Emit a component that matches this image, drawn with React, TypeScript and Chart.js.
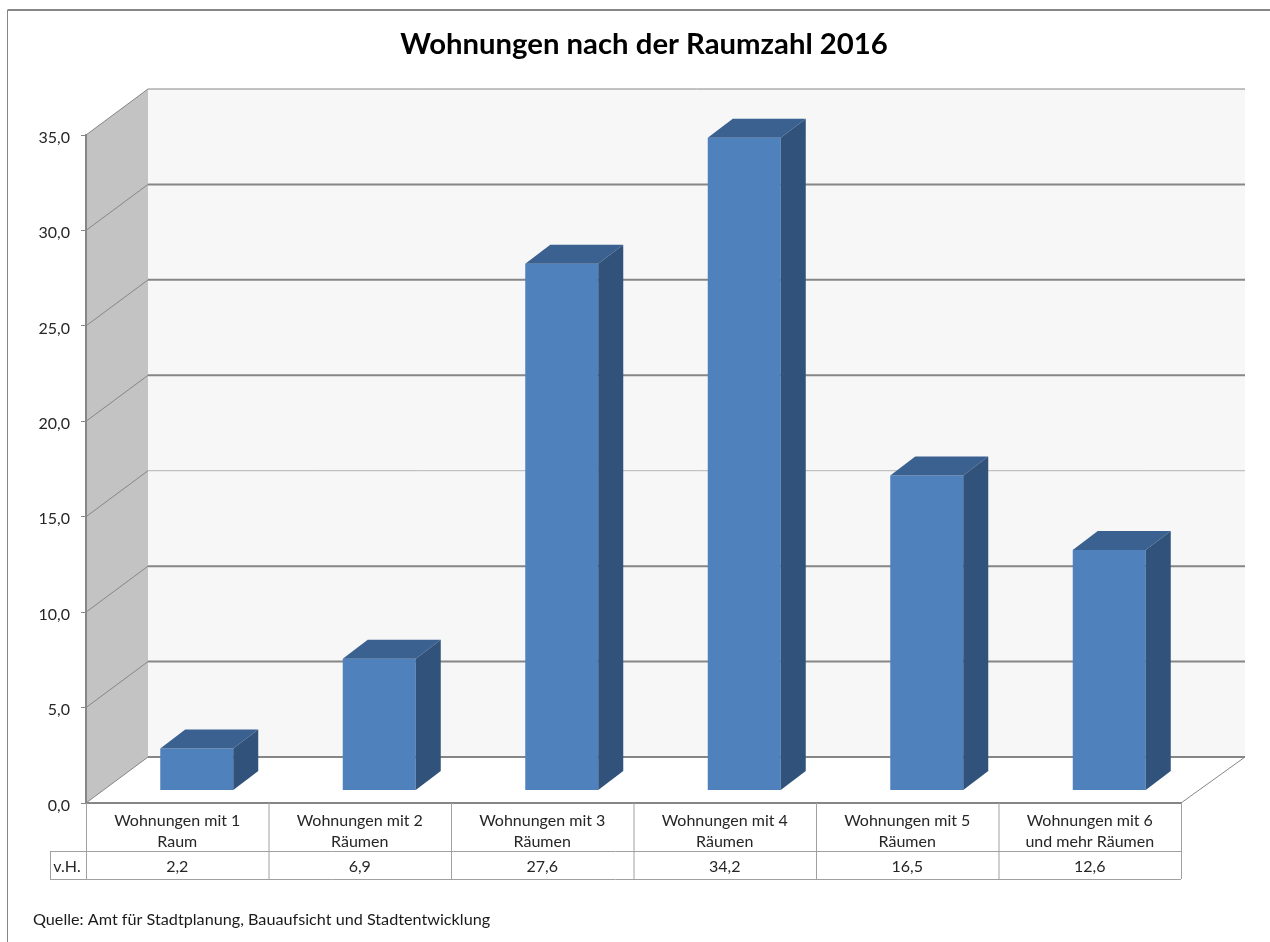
import React, { useEffect, useRef } from "react";
import { Chart, registerables } from "chart.js";

Chart.register(...registerables);

const TITLE = "Wohnungen nach der Raumzahl 2016";
const SOURCE = "Quelle: Amt für Stadtplanung, Bauaufsicht und Stadtentwicklung";
const ROW_LABEL = "v.H.";
const categories = [
  ["Wohnungen mit 1", "Raum"],
  ["Wohnungen mit 2", "Räumen"],
  ["Wohnungen mit 3", "Räumen"],
  ["Wohnungen mit 4", "Räumen"],
  ["Wohnungen mit 5", "Räumen"],
  ["Wohnungen mit 6", "und mehr Räumen"],
];
const values = [2.2, 6.9, 27.6, 34.2, 16.5, 12.6];

const FONT = "Lato, 'Noto Sans', sans-serif";
const TEXT = "#262626";
const LINE = "#868686";
const TABLE_LINE = "#a0a0a0";
const de = (v: number) => v.toFixed(1).replace(".", ",");

const WALL = { dx: 62, dy: -46, rightExtra: 2 };
const BAR_OFFSET = { dx: 19.5, dy: -12.5 };
const BAR_DEPTH = { dx: 25, dy: -19 };
const TABLE = { rowBottom: 851, valuesBottom: 879, headLeft: 50 };

const scenePlugin = {
  id: "scene",
  beforeDraw(chart: any) {
    const { ctx, chartArea: a, scales } = chart;
    const y = scales.y;
    const top = a.top;
    const bot = a.bottom;
    const backL = a.left + WALL.dx;
    const backR = a.right + WALL.dx + WALL.rightExtra;
    ctx.save();
    ctx.fillStyle = "#ffffff";
    ctx.fillRect(0, 0, chart.width, chart.height);
    // outer frame
    ctx.strokeStyle = LINE;
    ctx.lineWidth = 2;
    ctx.beginPath();
    ctx.moveTo(chart.width, 10);
    ctx.lineTo(7.5, 10);
    ctx.stroke();
    ctx.lineWidth = 1;
    ctx.beginPath();
    ctx.moveTo(7.5, 10);
    ctx.lineTo(7.5, chart.height);
    ctx.stroke();
    // back wall
    ctx.fillStyle = "#f7f7f7";
    ctx.fillRect(backL, top + WALL.dy, backR - backL, bot - top);
    // side wall
    ctx.fillStyle = "#c3c3c3";
    ctx.beginPath();
    ctx.moveTo(a.left, top);
    ctx.lineTo(backL, top + WALL.dy);
    ctx.lineTo(backL, bot + WALL.dy);
    ctx.lineTo(a.left, bot);
    ctx.closePath();
    ctx.fill();
    // grid lines on both walls, from the axis ticks
    y.ticks.forEach((t: any) => {
      const py = y.getPixelForValue(t.value);
      ctx.strokeStyle = LINE;
      ctx.lineWidth = 1;
      ctx.beginPath();
      ctx.moveTo(a.left, py);
      ctx.lineTo(backL, py + WALL.dy);
      ctx.stroke();
      const isLight = t.value === 15;
      ctx.strokeStyle = isLight ? "#b4b4b4" : LINE;
      ctx.lineWidth = t.value === 35 || isLight ? 1 : 2;
      ctx.beginPath();
      ctx.moveTo(backL, py + WALL.dy);
      ctx.lineTo(backR, py + WALL.dy);
      ctx.stroke();
    });
    // floor right edge
    ctx.strokeStyle = LINE;
    ctx.lineWidth = 1;
    ctx.beginPath();
    ctx.moveTo(a.right, bot);
    ctx.lineTo(backR, bot + WALL.dy);
    ctx.stroke();
    ctx.restore();
  },
  beforeDatasetDraw(chart: any) {
    chart.ctx.save();
    chart.ctx.translate(BAR_OFFSET.dx, BAR_OFFSET.dy);
  },
  afterDatasetDraw(chart: any, args: any) {
    const { ctx } = chart;
    args.meta.data.forEach((el: any) => {
      const { x, y, base, width } = el.getProps(["x", "y", "base", "width"], true);
      const l = x - width / 2;
      const r = x + width / 2;
      ctx.fillStyle = "#3b6191";
      ctx.beginPath();
      ctx.moveTo(l, y);
      ctx.lineTo(l + BAR_DEPTH.dx, y + BAR_DEPTH.dy);
      ctx.lineTo(r + BAR_DEPTH.dx, y + BAR_DEPTH.dy);
      ctx.lineTo(r, y);
      ctx.closePath();
      ctx.fill();
      ctx.fillStyle = "#31527a";
      ctx.beginPath();
      ctx.moveTo(r, y);
      ctx.lineTo(r + BAR_DEPTH.dx, y + BAR_DEPTH.dy);
      ctx.lineTo(r + BAR_DEPTH.dx, base + BAR_DEPTH.dy);
      ctx.lineTo(r, base);
      ctx.closePath();
      ctx.fill();
    });
    ctx.restore();
  },
  afterDraw(chart: any) {
    const { ctx, chartArea: a, scales } = chart;
    const x = scales.x;
    const half = (a.right - a.left) / categories.length / 2;
    ctx.save();
    // data table
    ctx.strokeStyle = TABLE_LINE;
    ctx.lineWidth = 1;
    const h = (yy: number, x0: number, x1: number) => {
      ctx.beginPath();
      ctx.moveTo(x0, yy + 0.5);
      ctx.lineTo(x1, yy + 0.5);
      ctx.stroke();
    };
    const v = (xx: number, y0: number, y1: number) => {
      ctx.beginPath();
      ctx.moveTo(xx + 0.5, y0);
      ctx.lineTo(xx + 0.5, y1);
      ctx.stroke();
    };
    h(TABLE.rowBottom, TABLE.headLeft, a.right);
    h(TABLE.valuesBottom, TABLE.headLeft, a.right);
    v(TABLE.headLeft, TABLE.rowBottom, TABLE.valuesBottom);
    v(a.left, a.bottom, TABLE.valuesBottom);
    categories.forEach((_, i) => v(x.getPixelForValue(i) + half, a.bottom, TABLE.valuesBottom));
    // values row
    ctx.fillStyle = TEXT;
    ctx.font = `16px ${FONT}`;
    ctx.textAlign = "center";
    ctx.textBaseline = "middle";
    const midY = (TABLE.rowBottom + TABLE.valuesBottom) / 2 + 1.5;
    values.forEach((val, i) => ctx.fillText(de(val), x.getPixelForValue(i), midY));
    ctx.fillText(ROW_LABEL, (TABLE.headLeft + a.left) / 2 - 1, midY);
    // title and source
    ctx.textAlign = "left";
    ctx.fillStyle = "#1a1a1a";
    ctx.font = `16.2px ${FONT}`;
    ctx.fillText(SOURCE, 33, 920);
    ctx.fillStyle = "#000000";
    ctx.font = `bold 29.3px ${FONT}`;
    ctx.textAlign = "center";
    ctx.fillText(TITLE, 644, 44.5);
    ctx.restore();
  },
};

export default function App() {
  const ref = useRef<HTMLCanvasElement>(null);
  useEffect(() => {
    const chart = new Chart(ref.current as HTMLCanvasElement, {
      type: "bar",
      data: {
        labels: categories as any,
        datasets: [
          {
            label: ROW_LABEL,
            data: values,
            backgroundColor: "#4f81bd",
            borderWidth: 0,
            categoryPercentage: 0.8,
            barPercentage: 0.5,
            clip: false as any,
          },
        ],
      },
      options: {
        animation: false,
        responsive: false,
        layout: { padding: { left: 0, right: 89, top: 135, bottom: 0 } },
        plugins: { legend: { display: false }, title: { display: false }, tooltip: { enabled: false } },
        scales: {
          x: {
            afterFit: (s: any) => {
              s.height = 139;
            },
            grid: { display: false, drawTicks: false },
            border: { display: true, color: LINE, width: 2 },
            ticks: {
              color: TEXT,
              padding: 7.5,
              maxRotation: 0,
              autoSkip: false,
              font: { family: FONT, size: 16, lineHeight: 1.32 },
            },
          },
          y: {
            min: 0,
            max: 35,
            afterFit: (s: any) => {
              s.width = 86;
            },
            grid: { drawOnChartArea: false, drawTicks: true, tickLength: 5, color: LINE },
            border: { display: true, color: LINE, width: 2 },
            ticks: {
              stepSize: 5,
              color: TEXT,
              padding: 11,
              labelOffset: 2.5,
              font: { family: FONT, size: 16 },
              callback: (val: any) => de(Number(val)),
            },
          },
        },
      },
      plugins: [scenePlugin],
    });
    return () => chart.destroy();
  }, []);
  return (
    <canvas
      ref={ref}
      width={1270}
      height={942}
      style={{ position: "absolute", left: 0, top: 0, display: "block", width: 1270, height: 942 }}
    />
  );
}
